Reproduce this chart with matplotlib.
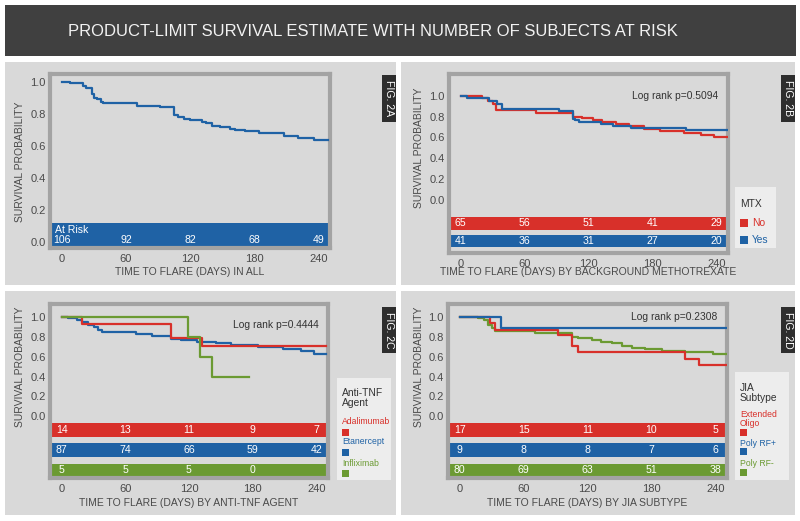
import matplotlib
matplotlib.use("Agg")
import matplotlib.pyplot as plt
import matplotlib.transforms as mtrans
from matplotlib.patches import Rectangle

plt.rcParams['font.family'] = ['Liberation Sans', 'DejaVu Sans']

W, H = 800, 521

RED = "#d8302a"
BLUE = "#1f62a5"
GREEN = "#6b9a32"
PANEL_BG = "#d9d9d9"
FRAME = "#a3a3a3"
LEG_BG = "#ededed"
TXT = "#4a4a4a"

title = "PRODUCT-LIMIT SURVIVAL ESTIMATE WITH NUMBER OF SUBJECTS AT RISK"
risk_times = [0, 60, 120, 180, 240]
yticks = [0.0, 0.2, 0.4, 0.6, 0.8, 1.0]

# Fig 2A - all patients
all_t = [0, 8, 20, 23, 28, 30, 33, 37, 39, 70, 92, 105, 109, 114, 120, 131,
         135, 141, 148, 157, 162, 171, 185, 208, 221, 236, 249]
all_s = [1.0, 0.99, 0.975, 0.96, 0.92, 0.90, 0.89, 0.875, 0.865, 0.85, 0.84,
         0.79, 0.78, 0.77, 0.76, 0.747, 0.74, 0.726, 0.715, 0.705, 0.70, 0.69,
         0.68, 0.66, 0.65, 0.635, 0.635]
all_risk = [106, 92, 82, 68, 49]

# Fig 2B - background methotrexate
mtx_no_t = [0, 20, 26, 30, 33, 71, 105, 114, 124, 133, 146, 158, 172, 187,
            210, 226, 238, 251]
mtx_no_s = [1.0, 0.975, 0.95, 0.92, 0.86, 0.83, 0.80, 0.785, 0.77, 0.75,
            0.73, 0.705, 0.68, 0.66, 0.64, 0.625, 0.60, 0.60]
mtx_yes_t = [0, 6, 27, 34, 39, 92, 105, 107, 111, 132, 143, 160, 212, 251]
mtx_yes_s = [1.0, 0.975, 0.95, 0.925, 0.87, 0.85, 0.78, 0.765, 0.75, 0.73,
             0.705, 0.69, 0.67, 0.67]
mtx_no_risk = [65, 56, 51, 41, 29]
mtx_yes_risk = [41, 36, 31, 27, 20]

# Fig 2C - anti-TNF agent
ada_t = [0, 19, 103, 132, 249]
ada_s = [1.0, 0.929, 0.786, 0.714, 0.714]
eta_t = [0, 6, 14, 19, 25, 30, 34, 38, 70, 85, 103, 112, 128, 145, 160, 185,
         209, 226, 238, 249]
eta_s = [1.0, 0.99, 0.975, 0.95, 0.92, 0.90, 0.875, 0.855, 0.835, 0.815,
         0.785, 0.77, 0.75, 0.735, 0.72, 0.70, 0.68, 0.66, 0.63, 0.63]
inf_t = [0, 119, 130, 142, 177]
inf_s = [1.0, 0.8, 0.6, 0.4, 0.4]
ada_risk = [14, 13, 11, 9, 7]
eta_risk = [87, 74, 66, 59, 42]
inf_risk = [5, 5, 5, 0, None]

# Fig 2D - JIA subtype
oligo_t = [0, 28, 33, 92, 105, 111, 212, 225, 251]
oligo_s = [1.0, 0.94, 0.875, 0.825, 0.705, 0.645, 0.58, 0.515, 0.515]
rfpos_t = [0, 39, 251]
rfpos_s = [1.0, 0.889, 0.889]
rfneg_t = [0, 17, 23, 27, 30, 33, 71, 105, 111, 124, 133, 143, 152, 162, 174,
           190, 212, 238, 251]
rfneg_s = [1.0, 0.99, 0.97, 0.92, 0.89, 0.865, 0.84, 0.80, 0.787, 0.77,
           0.753, 0.736, 0.712, 0.692, 0.675, 0.658, 0.645, 0.625, 0.625]
oligo_risk = [17, 15, 11, 10, 5]
rfpos_risk = [9, 8, 8, 7, 6]
rfneg_risk = [80, 69, 63, 51, 38]


def fx(x):
    return x / W


def fy(y):
    return 1 - y / H


def fig_rect(fig, x0, y0, x1, y1, color, z=0):
    fig.patches.append(Rectangle((fx(x0), fy(y1)), (x1 - x0) / W, (y1 - y0) / H,
                                 transform=fig.transFigure, color=color,
                                 zorder=z, lw=0))


panels = [
    dict(fig="FIG. 2A", bg=(5, 62, 396, 285), frame=(50, 74, 330, 248),
         ylim=(-0.039, 1.048), xlabel="TIME TO FLARE (DAYS) IN ALL",
         curves=[(all_t, all_s, BLUE)],
         bands=[(-0.033, 0.117, BLUE, all_risk)],
         figbox=(382, 75, 396, 122), logrank=None),
    dict(fig="FIG. 2B", bg=(401, 62, 795, 285), frame=(449, 74, 728, 253),
         ylim=(-0.508, 1.208),
         xlabel="TIME TO FLARE (DAYS) BY BACKGROUND METHOTREXATE",
         curves=[(mtx_no_t, mtx_no_s, RED), (mtx_yes_t, mtx_yes_s, BLUE)],
         bands=[(-0.288, -0.16, RED, mtx_no_risk),
                (-0.448, -0.336, BLUE, mtx_yes_risk)],
         figbox=(781, 75, 795, 122), logrank=("Log rank p=0.5094", 1.0)),
    dict(fig="FIG. 2C", bg=(5, 291, 396, 515), frame=(50, 304, 328, 478),
         ylim=(-0.628, 1.135), xlabel="TIME TO FLARE (DAYS) BY ANTI-TNF AGENT",
         curves=[(eta_t, eta_s, BLUE), (ada_t, ada_s, RED), (inf_t, inf_s, GREEN)],
         bands=[(-0.213, -0.071, RED, ada_risk),
                (-0.415, -0.274, BLUE, eta_risk),
                (-0.618, -0.486, GREEN, inf_risk)],
         figbox=(382, 307, 396, 353), logrank=("Log rank p=0.4444", 0.92)),
    dict(fig="FIG. 2D", bg=(401, 291, 795, 515), frame=(448, 304, 727, 478),
         ylim=(-0.628, 1.135), xlabel="TIME TO FLARE (DAYS) BY JIA SUBTYPE",
         curves=[(rfneg_t, rfneg_s, GREEN), (oligo_t, oligo_s, RED),
                 (rfpos_t, rfpos_s, BLUE)],
         bands=[(-0.213, -0.071, RED, oligo_risk),
                (-0.415, -0.274, BLUE, rfpos_risk),
                (-0.618, -0.486, GREEN, rfneg_risk)],
         figbox=(781, 307, 795, 353), logrank=("Log rank p=0.2308", 1.0)),
]

fig = plt.figure(figsize=(W / 100, H / 100), dpi=100, facecolor="white")

# title bar
fig_rect(fig, 5, 5, 796, 56, "#404040", z=-5)
fig.text(fx(373), fy(32), title, color="#f2f2f2", fontsize=12,
         ha="center", va="center")

for p in panels:
    bx0, by0, bx1, by1 = p["bg"]
    fig_rect(fig, bx0, by0, bx1, by1, PANEL_BG, z=-5)
    l, t, r, b = p["frame"]
    ax = fig.add_axes([fx(l), fy(b), (r - l) / W, (b - t) / H])
    ax.set_facecolor(PANEL_BG)
    ax.set_xlim(-11, 251)
    ax.set_ylim(*p["ylim"])
    for sp in ax.spines.values():
        sp.set_color(FRAME)
        sp.set_linewidth(3)
    ax.set_xticks(risk_times)
    ax.set_yticks(yticks)
    ax.set_yticklabels(["%.1f" % v for v in yticks])
    ax.tick_params(length=0, labelsize=8, labelcolor=TXT)
    ax.tick_params(axis="x", pad=4)
    ax.tick_params(axis="y", pad=3)
    mixed = mtrans.blended_transform_factory(ax.transAxes, ax.transData)

    for lo, hi, c, counts in p["bands"]:
        ax.axhspan(lo, hi, color=c, lw=0, zorder=1)
        ny = (lo + hi) / 2 if p["fig"] != "FIG. 2A" else 0.011
        for tt, n in zip(risk_times, counts):
            if n is None:
                continue
            ax.text(tt, ny, str(n), color="white", fontsize=7.6,
                    ha="center", va="center", zorder=4)
    if p["fig"] == "FIG. 2A":
        ax.text(-6, 0.073, "At Risk", color="white", fontsize=7.6,
                ha="left", va="center", zorder=4)

    for ct, cs, c in p["curves"]:
        ax.plot(ct, cs, drawstyle="steps-post", color=c, lw=1.6, zorder=3)

    if p["logrank"]:
        ax.text(0.965, p["logrank"][1], p["logrank"][0], color="#333333",
                fontsize=7.4, ha="right", va="center", transform=mixed)

    # axis labels
    ax.text(-29.5 / (r - l), 0.5, "SURVIVAL PROBABILITY", rotation=90,
            fontsize=7.5, color=TXT, ha="center", va="center", transform=mixed)
    xl_y = 272 if p["fig"] in ("FIG. 2A", "FIG. 2B") else 503
    ax.text(0.5, -(xl_y - b) / (b - t), p["xlabel"], fontsize=7.5, color=TXT,
            ha="center", va="center", transform=ax.transAxes)

    # figure tag
    fx0, fy0, fx1, fy1 = p["figbox"]
    fig_rect(fig, fx0, fy0, fx1, fy1, "#2e2e2e", z=2)
    fig.text(fx((fx0 + fx1) / 2), fy((fy0 + fy1) / 2), p["fig"], rotation=-90,
             color="white", fontsize=7.6, ha="center", va="center")

# legend for 2B
fig_rect(fig, 735, 187, 776, 248, LEG_BG, z=1)
fig.text(fx(740), fy(204), "MTX", fontsize=7.4, color="#333333", va="center")
for yy, lab, c in [(223, "No", RED), (240, "Yes", BLUE)]:
    fig_rect(fig, 740, yy - 3.5, 748, yy + 3.5, c, z=2)
    fig.text(fx(752), fy(yy), lab, fontsize=7.4, color=c, va="center")

# legend for 2C
fig_rect(fig, 337, 378, 391, 480, LEG_BG, z=1)
fig.text(fx(342), fy(398), "Anti-TNF\nAgent", fontsize=7.4, color="#333333",
         va="center", linespacing=1.0)
for yy, lab, c in [(422, "Adalimumab", RED), (442, "Etanercept", BLUE),
                   (463, "Infliximab", GREEN)]:
    fig.text(fx(342), fy(yy), lab, fontsize=6.2, color=c, va="center")
    fig_rect(fig, 342, yy + 7, 349, yy + 14, c, z=2)

# legend for 2D
fig_rect(fig, 735, 372, 789, 480, LEG_BG, z=1)
fig.text(fx(740), fy(393), "JIA\nSubtype", fontsize=7.4, color="#333333",
         va="center", linespacing=1.0)
for yy, lab, c in [(419, "Extended\nOligo", RED), (443, "Poly RF+", BLUE),
                   (464, "Poly RF-", GREEN)]:
    fig.text(fx(740), fy(yy), lab, fontsize=6.2, color=c, va="center",
             linespacing=1.0)
    sq = yy + 10 if "\n" in lab else yy + 5
    fig_rect(fig, 740, sq, 747, sq + 7, c, z=2)

fig.savefig("out.png", dpi=100, facecolor="white")
